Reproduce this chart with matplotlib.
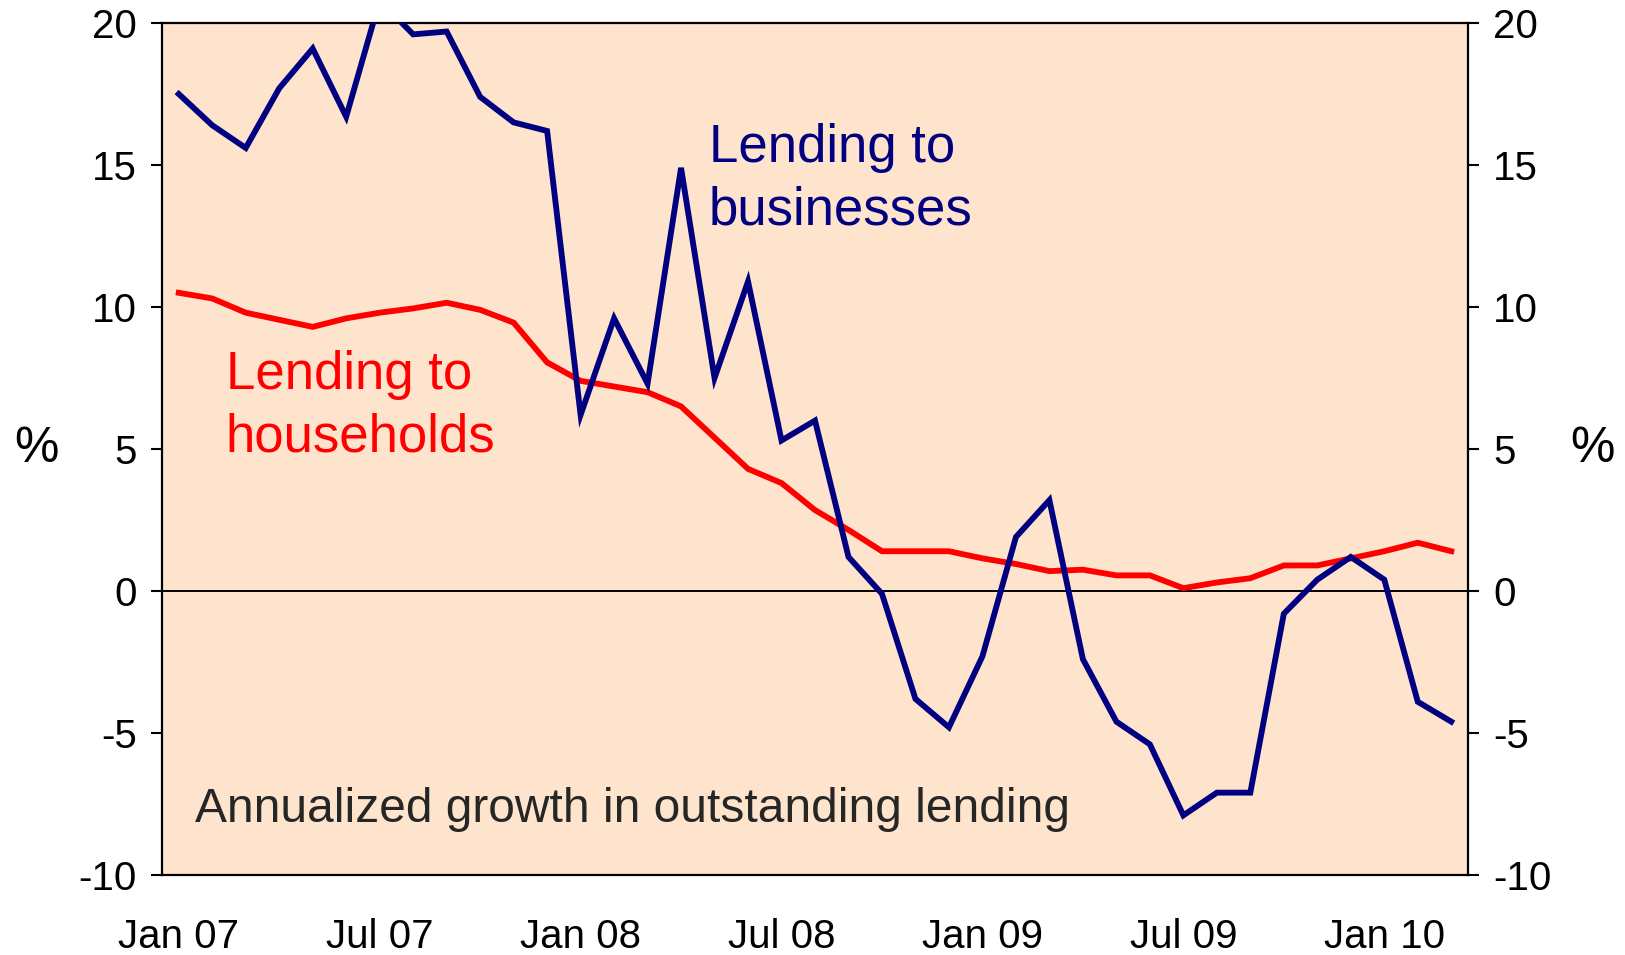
import numpy as np
import matplotlib
matplotlib.use('Agg')
import matplotlib.pyplot as plt

plt.rcParams['font.family'] = ['Liberation Sans', 'DejaVu Sans']
plt.rcParams['axes.unicode_minus'] = False

# monthly, Jan 2007 - Mar 2010
months = ['Jan 07', 'Feb 07', 'Mar 07', 'Apr 07', 'May 07', 'Jun 07', 'Jul 07', 'Aug 07', 'Sep 07',
          'Oct 07', 'Nov 07', 'Dec 07', 'Jan 08', 'Feb 08', 'Mar 08', 'Apr 08', 'May 08', 'Jun 08',
          'Jul 08', 'Aug 08', 'Sep 08', 'Oct 08', 'Nov 08', 'Dec 08', 'Jan 09', 'Feb 09', 'Mar 09',
          'Apr 09', 'May 09', 'Jun 09', 'Jul 09', 'Aug 09', 'Sep 09', 'Oct 09', 'Nov 09', 'Dec 09',
          'Jan 10', 'Feb 10', 'Mar 10']

businesses = [17.5, 16.4, 15.6, 17.7, 19.1, 16.7, 20.8, 19.6, 19.7, 17.4, 16.5, 16.2,
              6.2, 9.6, 7.3, 14.9, 7.5, 10.9, 5.3, 6.0, 1.2, -0.1, -3.8, -4.8,
              -2.3, 1.9, 3.2, -2.4, -4.6, -5.4, -7.9, -7.1, -7.1, -0.8, 0.4, 1.2,
              0.4, -3.9, -4.6]

households = [10.5, 10.3, 9.8, 9.55, 9.3, 9.6, 9.8, 9.95, 10.15, 9.9, 9.45, 8.05,
              7.4, 7.2, 7.0, 6.5, 5.4, 4.3, 3.8, 2.85, 2.15, 1.4, 1.4, 1.4,
              1.15, 0.95, 0.7, 0.75, 0.55, 0.55, 0.1, 0.3, 0.45, 0.9, 0.9, 1.15,
              1.4, 1.7, 1.4]

tick_months = ['Jan 07', 'Jul 07', 'Jan 08', 'Jul 08', 'Jan 09', 'Jul 09', 'Jan 10']
y_ticks = [-10, -5, 0, 5, 10, 15, 20]

x = np.arange(len(months))

fig = plt.figure(figsize=(16.25, 9.55), dpi=100)
ax = fig.add_axes([162 / 1625, 1 - 875 / 955, 1306 / 1625, 852 / 955])
ax.set_facecolor('#fee4cd')

ax.axhline(0, color='black', lw=1.4, zorder=1)
ax.plot(x, households, color='#ff0000', lw=4.2, solid_joinstyle='miter', zorder=3)
ax.plot(x, businesses, color='#000080', lw=4.2, solid_joinstyle='miter', zorder=4)

ax.set_xlim(-0.5, len(months) - 0.5)
ax.set_ylim(-10, 20)
ax.set_yticks(y_ticks)
ax.set_xticks([months.index(m) for m in tick_months])
ax.set_xticklabels(tick_months)

ax.tick_params(axis='y', which='both', direction='out', length=8, width=1.5,
               labelsize=29, pad=10, left=True, right=True, labelleft=True, labelright=True)
ax.tick_params(axis='x', length=0, labelsize=29, pad=31)
for s in ax.spines.values():
    s.set_linewidth(1.6)

ax.text(-0.0965, 5, '%', transform=ax.get_yaxis_transform(), fontsize=36, ha='center', va='center')
ax.text(1.095, 5, '%', transform=ax.get_yaxis_transform(), fontsize=36, ha='center', va='center')

ax.text(1.4, 7.1, 'Lending to', color='#ff0000', fontsize=38, va='baseline')
ax.text(1.4, 4.9, 'households', color='#ff0000', fontsize=38, va='baseline')
ax.text(15.82, 15.12, 'Lending to', color='#000080', fontsize=38, va='baseline')
ax.text(15.82, 12.89, 'businesses', color='#000080', fontsize=38, va='baseline')
ax.text(0.5, -8.12, 'Annualized growth in outstanding lending', color='#262626',
        fontsize=34.5, va='baseline')

fig.savefig('out.png', dpi=100)
